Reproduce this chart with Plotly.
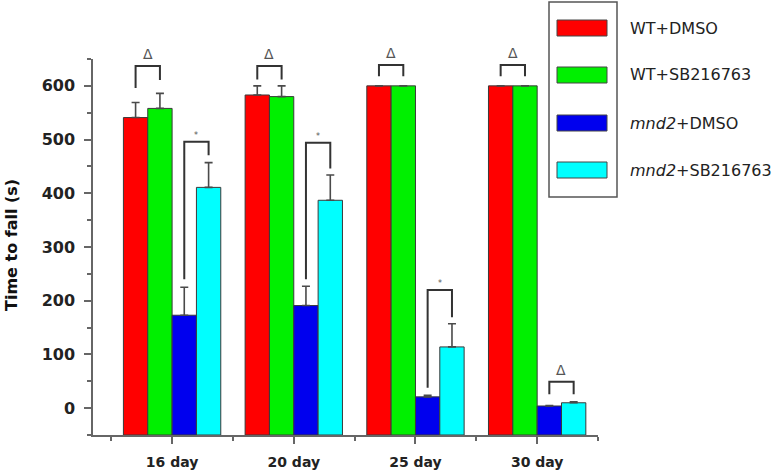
import plotly.graph_objects as go

# ---------------- data ----------------
days = ["16 day", "20 day", "25 day", "30 day"]
series_names = ["WT+DMSO", "WT+SB216763", "<i>mnd2</i>+DMSO", "<i>mnd2</i>+SB216763"]
y_title = "Time to fall (s)"
y_ticks = [0, 100, 200, 300, 400, 500, 600]
wt_dmso = [541, 583, 600, 600]
wt_dmso_err = [28, 17, 0, 0]
wt_sb = [558, 580, 600, 600]
wt_sb_err = [28, 20, 0, 0]
mnd2_dmso = [173, 191, 21, 4]
mnd2_dmso_err = [52, 36, 3, 1]
mnd2_sb = [411, 387, 114, 10]
mnd2_sb_err = [46, 47, 43, 2]

# significance brackets: (day index, series a, series b, top, leg a end, leg b end, label)
sig_top = [
    (0, 0, 1, 637, 596, 611, "Δ"),
    (1, 0, 1, 637, 612, 612, "Δ"),
    (2, 0, 1, 639, 618, 618, "Δ"),
    (3, 0, 1, 639, 618, 618, "Δ"),
]
sig_bottom = [
    (0, 2, 3, 496, 240, 471, "*"),
    (1, 2, 3, 494, 240, 446, "*"),
    (2, 2, 3, 220, 38, 169, "*"),
    (3, 2, 3, 49, 26, 26, "Δ"),
]

values = [wt_dmso, wt_sb, mnd2_dmso, mnd2_sb]
errors = [wt_dmso_err, wt_sb_err, mnd2_dmso_err, mnd2_sb_err]
colors = ["#FF0000", "#00F000", "#0000EE", "#00FFFF"]

# ---------------- layout constants ----------------
W, H = 783, 474
ML, MR, MT, MB = 93, 185, 59, 39
Y0 = -50
BARGAP = 0.2
ns = len(values)
bw = (1 - BARGAP) / ns
xs = list(range(len(days)))

fig = go.Figure()
for k in range(ns):
    fig.add_trace(go.Bar(
        x=xs,
        y=[v - Y0 for v in values[k]],
        base=Y0,
        name=series_names[k],
        marker=dict(color=colors[k], line=dict(color="#3a3a3a", width=1)),
        error_y=dict(type="data", symmetric=False, array=errors[k],
                     arrayminus=[0] * len(days), color="#4a4a4a",
                     thickness=1.6, width=4),
        showlegend=False,
    ))

def center(day, s):
    return day - (1 - BARGAP) / 2 + bw * (s + 0.5)

shapes = []
annotations = []
for (d, a, b, top, la, lb, lab) in sig_top + sig_bottom:
    xa, xb = center(d, a), center(d, b)
    shapes.append(dict(type="path", xref="x", yref="y",
                       path=f"M {xa},{la} L {xa},{top} L {xb},{top} L {xb},{lb}",
                       line=dict(color="#333333", width=2)))
    annotations.append(dict(x=(xa + xb) / 2, y=top, xref="x", yref="y",
                            text=lab, showarrow=False, yanchor="bottom",
                            yshift=2 if lab == "Δ" else 0,
                            font=dict(family="DejaVu Sans", size=14 if lab == "Δ" else 8,
                                      color="#555555")))

# custom legend (pixel layout converted to paper coords)
pw, ph = W - ML - MR, H - MT - MB
def px(xp):
    return (xp - ML) / pw
def py(yp):
    return (H - MB - yp) / ph

shapes.append(dict(type="rect", xref="paper", yref="paper",
                   x0=px(549), x1=px(617), y0=py(197), y1=py(2),
                   line=dict(color="#555555", width=1.5), fillcolor="rgba(0,0,0,0)"))
row_y = [28, 75, 123, 170]
for k in range(ns):
    shapes.append(dict(type="rect", xref="paper", yref="paper",
                       x0=px(557), x1=px(607), y0=py(row_y[k] + 8), y1=py(row_y[k] - 8),
                       line=dict(color="#444444", width=1), fillcolor=colors[k]))
    annotations.append(dict(x=px(628), y=py(row_y[k]), xref="paper", yref="paper",
                            text=series_names[k], showarrow=False,
                            xanchor="left", yanchor="middle",
                            font=dict(family="DejaVu Sans", size=16, color="#222222")))

# y-axis title
annotations.append(dict(x=px(11), y=py(245), xref="paper", yref="paper",
                        text=y_title, showarrow=False, textangle=-90,
                        xanchor="center", yanchor="middle",
                        font=dict(family="DejaVu Sans", size=16, color="#111111",
                                  weight="bold")))

fig.update_layout(
    width=W, height=H,
    margin=dict(l=ML, r=MR, t=MT, b=MB, autoexpand=False),
    plot_bgcolor="white", paper_bgcolor="white",
    barmode="group", bargap=BARGAP, bargroupgap=0,
    shapes=shapes, annotations=annotations,
)
fig.update_xaxes(
    automargin=False,
    range=[-0.65, 3.5], tickmode="array", tickvals=xs, ticktext=days,
    showgrid=False, zeroline=False, showline=True, linecolor="#666666", linewidth=1.5,
    ticks="outside", ticklen=7, tickcolor="#666666", tickwidth=1.5,
    minor=dict(tickmode="linear", tick0=-0.5, dtick=1, ticks="outside", ticklen=4,
               tickcolor="#666666", tickwidth=1.5, showgrid=False),
    tickfont=dict(family="DejaVu Sans", size=14, color="#222222", weight="bold"),
    ticklabelstandoff=6,
)
fig.update_yaxes(
    automargin=False,
    range=[-50, 650], tickmode="array", tickvals=y_ticks,
    showgrid=False, zeroline=False, showline=True, linecolor="#666666", linewidth=1.5,
    ticks="outside", ticklen=7, tickcolor="#666666", tickwidth=1.5,
    minor=dict(tickmode="linear", tick0=50, dtick=100, ticks="outside", ticklen=4,
               tickcolor="#666666", tickwidth=1.5, showgrid=False),
    tickfont=dict(family="DejaVu Sans", size=16, color="#222222", weight="bold"),
    ticklabelstandoff=6,
)

fig.write_html("out.html", config={"displayModeBar": False},
               post_script="document.body.style.margin='0';document.body.style.overflow='hidden';")
